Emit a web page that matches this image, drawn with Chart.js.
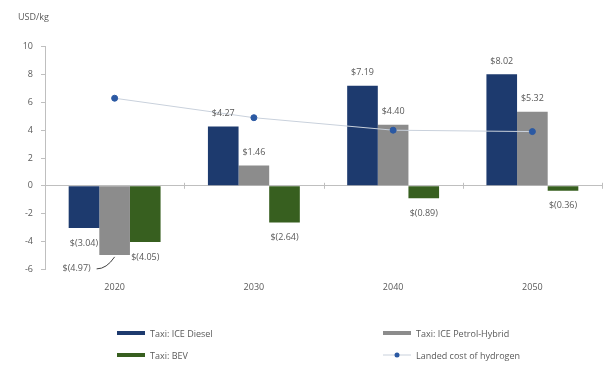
<!DOCTYPE html>
<html lang="en">
<head>
<meta charset="UTF-8">
<title>Taxi cost gap vs landed cost of hydrogen</title>
<script src="https://cdn.jsdelivr.net/npm/chart.js"></script>
<style>
  body { margin: 0; background: #fff; font-family: "Open Sans", Arial, sans-serif; }
  .wrap { position: relative; width: 607px; height: 366px; }
  #legend { position: absolute; left: 117px; top: 327px; font-size: 9px; color: #595959; }
  .item { position: absolute; display: flex; align-items: center; white-space: nowrap; height: 12px; }
  .swatch { width: 28px; height: 4px; margin-right: 5px; }
</style>
</head>
<body>
<div class="wrap">
  <canvas id="chart" width="607" height="366"></canvas>
  <div id="legend"></div>
</div>

<script>
  const years = ['2020', '2030', '2040', '2050'];
  const dieselCost = [-3.04, 4.27, 7.19, 8.02];
  const petrolHybridCost = [-4.97, 1.46, 4.40, 5.32];
  const bevCost = [-4.05, -2.64, -0.89, -0.36];
  const hydrogenCost = [6.3, 4.9, 4.0, 3.9];
  const yTicks = [-6, -4, -2, 0, 2, 4, 6, 8, 10];

  const textColor = '#595959';
  const axisColor = '#bfbfbf';

  function money(v) {
    return v < 0 ? '$(' + Math.abs(v).toFixed(2) + ')' : '$' + v.toFixed(2);
  }

  // value labels on the bars, the 2020 petrol one is moved aside with a leader line
  const barLabels = {
    id: 'barLabels',
    afterDatasetsDraw(chart) {
      const ctx = chart.ctx;
      ctx.save();
      ctx.font = '9px "Open Sans", Arial, sans-serif';
      ctx.fillStyle = textColor;
      ctx.textAlign = 'center';
      ctx.textBaseline = 'middle';
      chart.data.datasets.forEach((ds, di) => {
        if (ds.type === 'line') return;
        chart.getDatasetMeta(di).data.forEach((bar, i) => {
          const v = ds.data[i];
          let x = bar.x;
          let y = v >= 0 ? bar.y - 13 : bar.y + 15;
          if (di === 1 && i === 0) {
            x = bar.x - 38;
            y = bar.y + 14;
            ctx.strokeStyle = '#404040';
            ctx.lineWidth = 1;
            ctx.beginPath();
            ctx.moveTo(bar.x, bar.y + 2);
            ctx.quadraticCurveTo(bar.x - 8, y, bar.x - 18, y);
            ctx.stroke();
          }
          ctx.fillText(money(v), x, y);
        });
      });
      ctx.restore();
    }
  };

  // small tick marks on the zero line between the year groups
  const zeroTicks = {
    id: 'zeroTicks',
    beforeDatasetsDraw(chart) {
      const ctx = chart.ctx;
      const y0 = chart.scales.y.getPixelForValue(0);
      const step = (chart.chartArea.right - chart.chartArea.left) / years.length;
      ctx.save();
      ctx.strokeStyle = axisColor;
      ctx.lineWidth = 1;
      for (let k = 0; k <= years.length; k++) {
        const x = Math.round(chart.chartArea.left + k * step) + 0.5;
        ctx.beginPath();
        ctx.moveTo(x, y0 - 3);
        ctx.lineTo(x, y0 + 3);
        ctx.stroke();
      }
      ctx.restore();
    }
  };

  const datasets = [
    { label: 'Taxi: ICE Diesel', data: dieselCost, backgroundColor: '#1d3a6e', order: 1 },
    { label: 'Taxi: ICE Petrol-Hybrid', data: petrolHybridCost, backgroundColor: '#8c8c8c', order: 1 },
    { label: 'Taxi: BEV', data: bevCost, backgroundColor: '#375f1f', order: 1 },
    {
      type: 'line', label: 'Landed cost of hydrogen', data: hydrogenCost,
      borderColor: '#c9d1dc', borderWidth: 1, pointRadius: 3,
      pointBackgroundColor: '#2b59a3', pointBorderColor: '#2b59a3', order: 0
    }
  ];

  new Chart(document.getElementById('chart'), {
    type: 'bar',
    data: { labels: years, datasets: datasets },
    options: {
      responsive: false,
      animation: false,
      layout: { padding: { left: 18, right: 2, top: 0, bottom: 68 } },
      datasets: { bar: { categoryPercentage: 0.66, barPercentage: 1 } },
      plugins: {
        legend: { display: false },
        tooltip: { enabled: false },
        title: {
          display: true, text: 'USD/kg', align: 'start', color: textColor,
          font: { size: 9, weight: 'normal', family: '"Open Sans", Arial, sans-serif' },
          padding: { top: 12, bottom: 24 }
        }
      },
      scales: {
        x: {
          grid: { display: false },
          border: { display: false },
          ticks: { color: textColor, padding: 5, font: { size: 9, family: '"Open Sans", Arial, sans-serif' } }
        },
        y: {
          min: -6, max: 10,
          afterBuildTicks: (s) => { s.ticks = yTicks.map(v => ({ value: v })); },
          afterFit: (s) => { s.width = 27; },
          border: { display: true, color: axisColor },
          grid: {
            color: (c) => c.tick && c.tick.value === 0 ? axisColor : 'rgba(0,0,0,0)',
            tickColor: axisColor, tickLength: 4
          },
          ticks: { color: textColor, padding: 8, font: { size: 9, family: '"Open Sans", Arial, sans-serif' } }
        }
      }
    },
    plugins: [zeroTicks, barLabels]
  });

  // legend in two columns, built from the dataset list
  const legend = document.getElementById('legend');
  datasets.forEach((ds, i) => {
    const item = document.createElement('div');
    item.className = 'item';
    item.style.left = (i % 2) * 266 + 'px';
    item.style.top = Math.floor(i / 2) * 22 + 'px';
    let sw;
    if (ds.type === 'line') {
      sw = '<svg width="28" height="8" style="margin-right:5px"><line x1="0" y1="4" x2="28" y2="4" stroke="' +
        ds.borderColor + '" stroke-width="1"/><circle cx="14" cy="4" r="2.5" fill="' + ds.pointBackgroundColor + '"/></svg>';
    } else {
      sw = '<span class="swatch" style="background:' + ds.backgroundColor + '"></span>';
    }
    item.innerHTML = sw + '<span>' + ds.label + '</span>';
    legend.appendChild(item);
  });
</script>
</body>
</html>
